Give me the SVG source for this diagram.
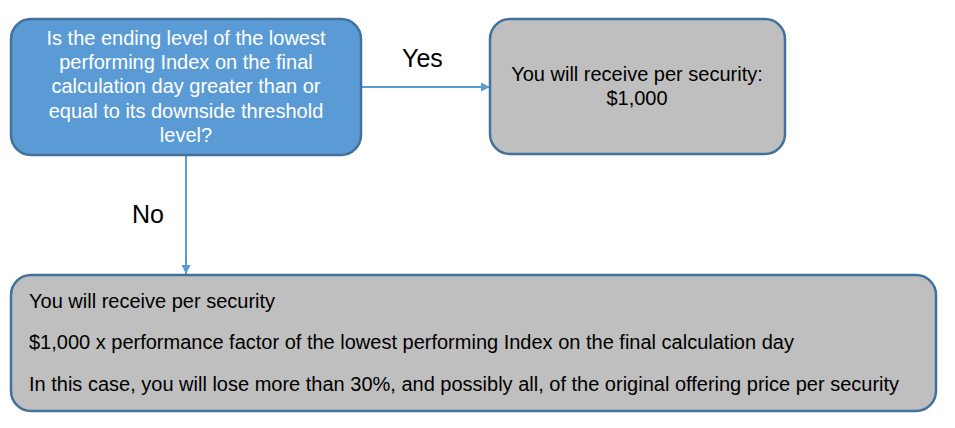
<svg xmlns="http://www.w3.org/2000/svg" width="955" height="428" viewBox="0 0 955 428">
<defs>
<style>
.t{font-family:"Liberation Sans",Arial,sans-serif;font-size:20px}
.w{fill:#ffffff}
.k{fill:#000000}
.lbl{font-family:"Liberation Sans",Arial,sans-serif;font-size:25px;fill:#000000}
.con{stroke:#5B9BD5;stroke-width:2;fill:none}
</style>
<marker id="ah" viewBox="0 0 10 10" refX="10" refY="5" markerWidth="9" markerHeight="9" markerUnits="userSpaceOnUse" orient="auto">
<path d="M0,0 L10,5 L0,10 z" fill="#5B9BD5"/>
</marker>
</defs>
<rect width="955" height="428" fill="#ffffff"/>
<g id="connectors">
<line class="con" x1="361" y1="87" x2="490" y2="87" marker-end="url(#ah)"/>
<line class="con" x1="186" y1="155" x2="186" y2="274" marker-end="url(#ah)"/>
<text class="lbl" x="402" y="67">Yes</text>
<text class="lbl" x="132" y="223">No</text>
</g>
<g id="question">
<rect x="11" y="19" width="350" height="136" rx="20" fill="#5B9BD5" stroke="#41719C" stroke-width="2.5"/>
<text class="t w" text-anchor="middle" x="186" y="45">Is the ending level of the lowest</text>
<text class="t w" text-anchor="middle" x="186" y="69">performing Index on the final</text>
<text class="t w" text-anchor="middle" x="186" y="93">calculation day greater than or</text>
<text class="t w" text-anchor="middle" x="186" y="118">equal to its downside threshold</text>
<text class="t w" text-anchor="middle" x="186" y="142">level?</text>
</g>
<g id="yes-outcome">
<rect x="490" y="19" width="295" height="135" rx="20" fill="#BFBFBF" stroke="#41719C" stroke-width="2.5"/>
<text class="t k" text-anchor="middle" x="637" y="81">You will receive per security:</text>
<text class="t k" text-anchor="middle" x="637" y="105">$1,000</text>
</g>
<g id="no-outcome">
<rect x="11" y="275" width="925" height="136" rx="20" fill="#BFBFBF" stroke="#41719C" stroke-width="2.5"/>
<text class="t k" x="29" y="308">You will receive per security</text>
<text class="t k" x="29" y="349">$1,000 x performance factor of the lowest performing Index on the final calculation day</text>
<text class="t k" x="29" y="391">In this case, you will lose more than 30%, and possibly all, of the original offering price per security</text>
</g>
</svg>
